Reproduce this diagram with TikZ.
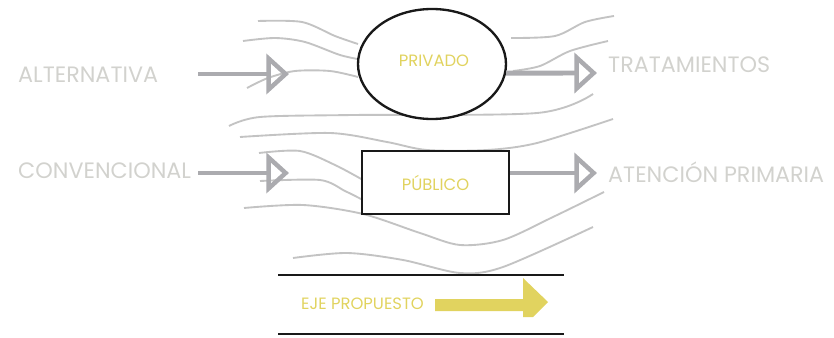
\documentclass[tikz,border=0pt]{standalone}
\usepackage{fontspec}
\setmainfont{Poppins}
\usepackage{tikz}
\usetikzlibrary{arrows.meta,positioning,shapes.geometric}

\definecolor{ejeyellow}{HTML}{E1D35F}
\definecolor{flowgray}{HTML}{ABABAF}
\definecolor{sidegray}{HTML}{D2D2CE}
\definecolor{wavegray}{HTML}{C3C3C3}

\begin{document}
\begin{tikzpicture}[
    x=0.03cm, y=-0.03cm,
    core/.style={draw=black!90, line width=2pt, inner sep=0pt, font=\fontsize{14}{16}\selectfont, text=ejeyellow},
    side/.style={inner sep=0pt, font=\fontsize{19}{22}\selectfont, text=sidegray},
    flow/.style={draw=flowgray, line width=4.2pt, -{Triangle[open, length=0.68cm, width=1.2cm, line width=3.8pt]}},
    wave/.style={draw=wavegray, line width=1.6pt}
]
    \useasboundingbox (0,0) rectangle (834,338);

    % wavy background
    \draw[wave] plot[smooth] coordinates {(258,21) (302,22) (335,36) (358,44)};
    \draw[wave] plot[smooth] coordinates {(243,41) (275,38) (305,42) (340,55) (363,60)};
    \draw[wave] plot[smooth] coordinates {(247,88) (268,78) (295,71) (330,71) (358,77)};
    \draw[wave] plot[smooth] coordinates {(511,38) (555,36) (585,22) (614,16)};
    \draw[wave] plot[smooth] coordinates {(513,71) (540,66) (570,51) (608,41)};
    \draw[wave] plot[smooth] coordinates {(229,126) (260,117) (353,115) (537,113) (593,94)};
    \draw[wave] plot[smooth] coordinates {(240,137) (330,133) (387,142) (427,150) (487,150) (537,143) (613,119)};
    \draw[wave] plot[smooth] coordinates {(259,153) (300,151) (335,165) (363,180)};
    \draw[wave] plot[smooth] coordinates {(260,181) (320,180) (345,191) (363,200)};
    \draw[wave] plot[smooth] coordinates {(244,208) (303,205) (363,214) (420,233) (460,245) (503,240) (553,217) (604,192)};
    \draw[wave] plot[smooth] coordinates {(293,258) (347,253) (403,260) (460,273) (503,267) (593,227)};

    % Sectors
    \node[core, ellipse, fill=white, minimum width=4.44cm, minimum height=3.3cm] (privado) at (432,64) {};
    \node[core, draw=none] (privadoTxt) at (434,61) {PRIVADO};
    \node[core, rectangle, fill=white, minimum width=4.41cm, minimum height=1.89cm] (publico) at (435.5,182.5) {PÚBLICO};

    % Side labels
    \node[side, anchor=west] (alternativa) at (18,75) {ALTERNATIVA};
    \node[side, anchor=west] (convencional) at (18,171) {CONVENCIONAL};
    \node[side, anchor=west] (tratamientos) at (608,65) {TRATAMIENTOS};
    \node[side, anchor=west] (atencion) at (608,172) {ATENCIÓN PRIMARIA};

    % Arrow ends
    \coordinate (in1) at (198,74);
    \coordinate (in1tip) at (289,74);
    \coordinate (in2) at (198,173);
    \coordinate (in2tip) at (289,173);
    \coordinate (out1) at (597,73);
    \coordinate (out2) at (597,173);

    % Flows
    \draw[flow] (in1) -- (in1tip);
    \draw[flow] (in2) -- (in2tip);
    \draw[flow] (privado.-7) -- (out1);
    \draw[flow] (publico.east |- out2) -- (out2);

    % Proposed axis
    \draw[black!90, line width=2pt] (278,275) -- (564,275);
    \draw[black!90, line width=2pt] (278,334) -- (564,334);
    \fill[ejeyellow] (435,299) -- (523,299) -- (523,278) -- (548,302) -- (533,317)
        -- (523,317) -- (523,311) -- (435,311) -- cycle;
    \node[core, draw=none, anchor=west] (eje) at (300,304) {EJE PROPUESTO};
\end{tikzpicture}
\end{document}
